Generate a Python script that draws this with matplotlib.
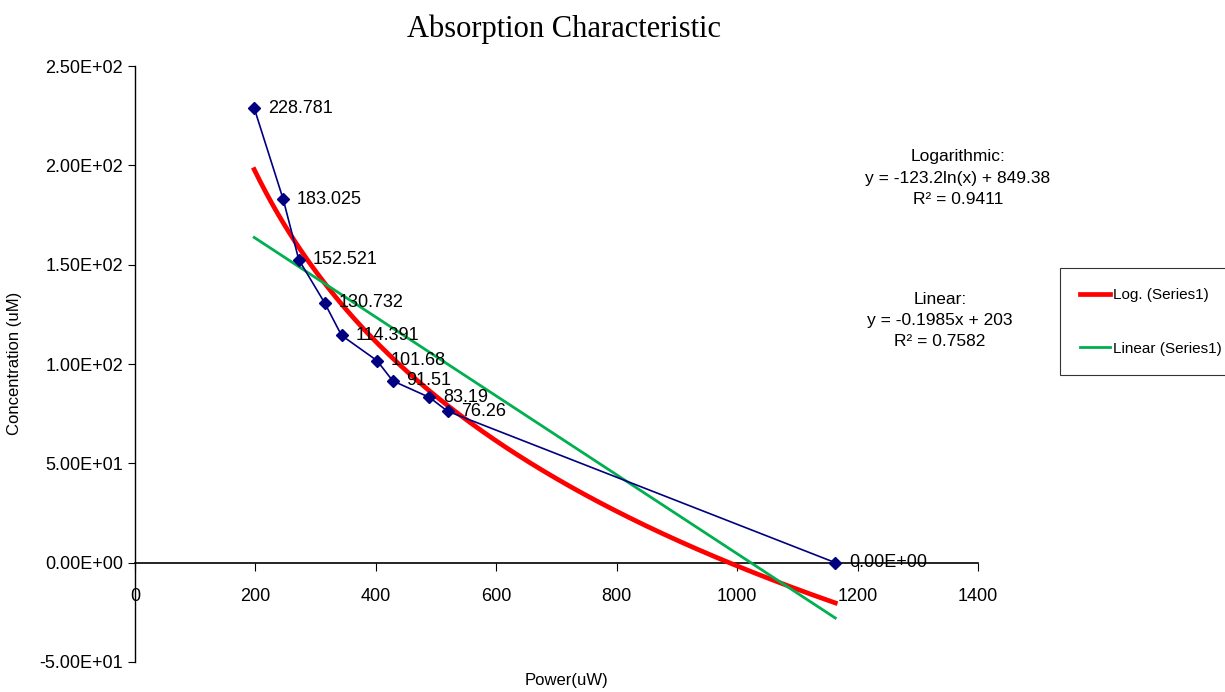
import numpy as np
import matplotlib.pyplot as plt
from matplotlib.ticker import FuncFormatter

plt.rcParams['font.family'] = ['Liberation Sans', 'DejaVu Sans']

# measured points
power = [198, 246, 272, 315, 343, 402, 428, 489, 519, 1163]
conc = [228.781, 183.025, 152.521, 130.732, 114.391, 101.68, 91.51, 83.19, 76.26, 0.0]
point_labels = ['228.781', '183.025', '152.521', '130.732', '114.391',
                '101.68', '91.51', '83.19', '76.26', '0.00E+00']

# trendline coefficients as shown on the chart
log_coef = (-123.2, 849.38)
lin_coef = (-0.1985, 203)
log_text = 'Logarithmic:\ny = -123.2ln(x) + 849.38\nR² = 0.9411'
lin_text = 'Linear:\ny = -0.1985x + 203\nR² = 0.7582'

fig = plt.figure(figsize=(12.25, 6.92), dpi=100)
ax = fig.add_axes([135 / 1225, 30 / 692, (978 - 135) / 1225, (662 - 66) / 692])

xs = np.linspace(power[0], power[-1], 300)
ax.plot(xs, log_coef[0] * np.log(xs) + log_coef[1], color='#ff0000', lw=3.4,
        label='Log. (Series1)', zorder=3)
ax.plot(xs, lin_coef[0] * xs + lin_coef[1], color='#00b050', lw=2,
        label='Linear (Series1)', zorder=3)
ax.plot(power, conc, color='#000080', lw=1.2, marker='D', ms=6, zorder=4)

for x, y, t in zip(power, conc, point_labels):
    ax.annotate(t, (x, y), xytext=(10, 0), textcoords='offset points',
                va='center', ha='left', fontsize=13, zorder=5)

ax.set_xlim(0, 1400)
ax.set_ylim(-50, 250)
ax.set_xticks(range(0, 1401, 200))
ax.set_yticks(range(-50, 251, 50))
ax.yaxis.set_major_formatter(FuncFormatter(lambda v, p: f'{v:.2E}'))

ax.spines['top'].set_visible(False)
ax.spines['right'].set_visible(False)
ax.spines['bottom'].set_position(('data', 0))
ax.spines['bottom'].set_linewidth(1.2)
ax.spines['left'].set_linewidth(1)
ax.tick_params(axis='x', direction='out', length=6, labelsize=13, pad=12)
ax.tick_params(axis='y', direction='out', length=5, labelsize=13)

fig.text(564 / 1225, 1 - 29 / 692, 'Absorption Characteristic', ha='center', va='center',
         fontsize=22, family=['Liberation Serif', 'DejaVu Serif'])
fig.text(15 / 1225, 1 - 363 / 692, 'Concentration (uM)', rotation=90, ha='center',
         va='center', fontsize=12)
fig.text(567 / 1225, 1 - 681 / 692, 'Power(uW)', ha='center', va='center', fontsize=12)

fig.text(958 / 1225, 1 - 178 / 692, log_text, ha='center', va='center', fontsize=12.5,
         linespacing=1.5)
fig.text(940 / 1225, 1 - 320 / 692, lin_text, ha='center', va='center', fontsize=12.5,
         linespacing=1.5)

leg = fig.legend(loc='upper left', bbox_to_anchor=(1060 / 1225, 1 - 268 / 692),
                 fontsize=11, frameon=True, fancybox=False, edgecolor='black',
                 handlelength=2.0, handletextpad=0.15, labelspacing=2.6,
                 borderpad=1.3, borderaxespad=0)
leg.get_frame().set_linewidth(0.8)

fig.savefig('out.png', dpi=100)
